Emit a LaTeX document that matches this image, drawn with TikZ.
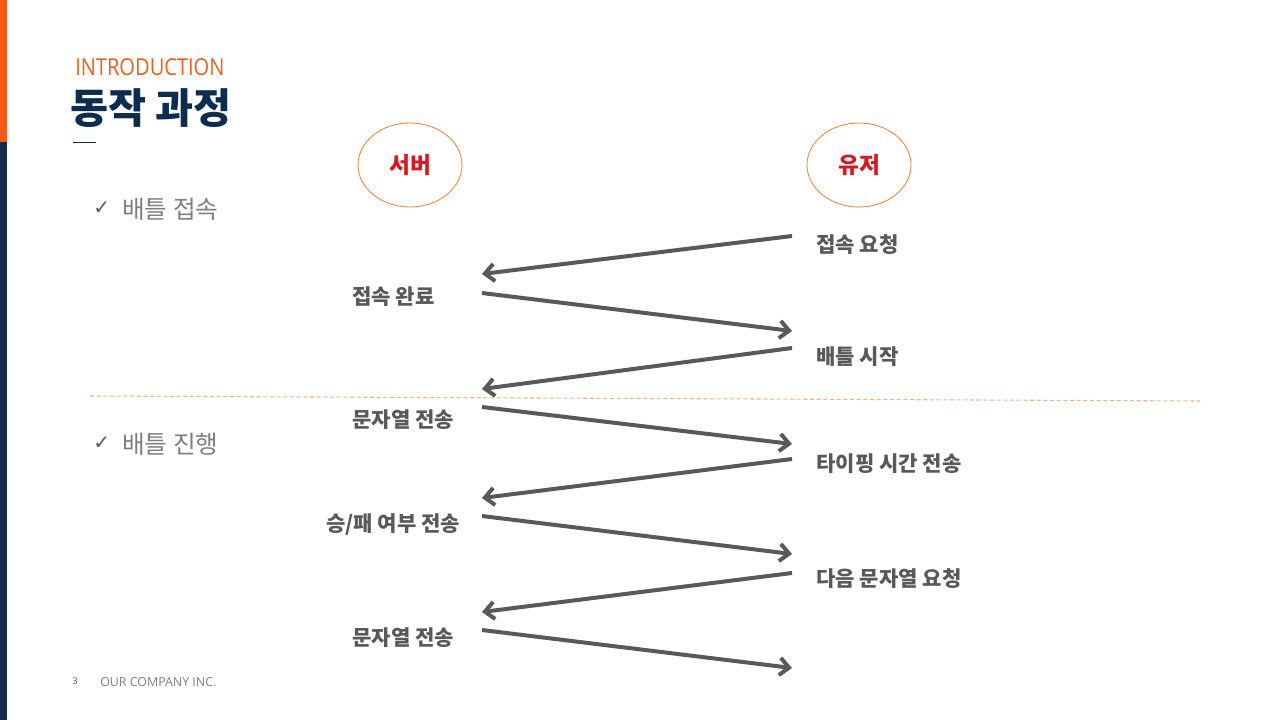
\documentclass[tikz,border=0pt]{standalone}
\usepackage{fontspec}
\setmainfont{Noto Sans CJK KR}
\newfontfamily\symfont{DejaVu Sans}
\newfontfamily\latinfont{Open Sans}
\usetikzlibrary{arrows.meta,shapes.geometric}

\definecolor{barorange}{HTML}{FA5A14}
\definecolor{titleorange}{HTML}{E8601C}
\definecolor{navy}{HTML}{0C2D50}
\definecolor{msggray}{HTML}{595959}
\definecolor{itemgray}{HTML}{7F7F7F}
\definecolor{ringorange}{HTML}{ED7D31}
\definecolor{dashorange}{HTML}{F4B183}
\definecolor{rolered}{HTML}{E0141E}

\tikzset{
  msg/.style={-{Straight Barb[length=7pt,width=13pt]}, line width=3pt, draw=msggray},
  msglabel/.style={anchor=west, inner sep=0pt, text=msggray, font=\fontsize{15.8}{18}\selectfont\bfseries},
  role/.style={ellipse, draw=ringorange, line width=0.6pt, minimum width=78pt, minimum height=63pt, text=rolered, font=\fontsize{17}{19}\selectfont\bfseries},
  item/.style={anchor=west, inner sep=0pt, text=itemgray, font=\fontsize{18.5}{20}\selectfont},
  check/.style={anchor=west, inner sep=0pt, text=msggray, font=\symfont\fontsize{15}{17}\selectfont},
}

\begin{document}
\begin{tikzpicture}[x=0.75pt, y=-0.75pt]
\useasboundingbox (0,0) rectangle (1280,720);
% side bar
\fill [barorange] (0,0) rectangle (7,142);
\fill [navy] (0,142) rectangle (7,720);

% heading
\node (intro) [anchor=west, inner sep=0pt, text=titleorange] at (75,67)
  {\scalebox{0.86}[1]{\latinfont\fontsize{17.5}{19}\selectfont INTRODUCTION}};
\node (title) [anchor=west, inner sep=0pt, text=navy, font=\fontsize{31}{34}\selectfont\bfseries] at (70,108) {동작 과정};
\draw [navy, line width=0.7pt] (73,142) -- (96,142);

% sections
\node (chk1) [check] at (93,208) {✓};
\node (sec1) [item] at (122,209) {배틀 접속};
\node (chk2) [check] at (93,443) {✓};
\node (sec2) [item] at (122,444) {배틀 진행};
\draw [dashorange, line width=0.8pt, dash pattern=on 3pt off 2pt] (90,396) -- (1200,401);

% roles
\node (server) [role] at (410,165) {서버};
\node (user) [role] at (859,165) {유저};

% message ends
\coordinate (u1) at (792,236);
\coordinate (s1) at (482,274);
\coordinate (s2) at (482,293);
\coordinate (u2) at (792,331);
\coordinate (u3) at (792,348);
\coordinate (s3) at (482,389);
\coordinate (s4) at (482,407);
\coordinate (u4) at (792,444);
\coordinate (u5) at (792,459);
\coordinate (s5) at (482,498);
\coordinate (s6) at (482,516);
\coordinate (u6) at (792,554);
\coordinate (u7) at (792,573);
\coordinate (s7) at (482,612);
\coordinate (s8) at (482,630);
\coordinate (u8) at (792,668);

\draw [msg] (u1) -- (s1);
\draw [msg] (s2) -- (u2);
\draw [msg] (u3) -- (s3);
\draw [msg] (s4) -- (u4);
\draw [msg] (u5) -- (s5);
\draw [msg] (s6) -- (u6);
\draw [msg] (u7) -- (s7);
\draw [msg] (s8) -- (u8);

% message labels
\node (req) [msglabel] at (816,245) {접속 요청};
\node (done) [msglabel] at (352,297) {접속 완료};
\node (start) [msglabel] at (816,357) {배틀 시작};
\node (str1) [msglabel] at (352,420) {문자열 전송};
\node (typing) [msglabel] at (816,464) {타이핑 시간 전송};
\node (result) [msglabel] at (326,525) {승/패 여부 전송};
\node (next) [msglabel] at (816,579) {다음 문자열 요청};
\node (str2) [msglabel] at (352,638) {문자열 전송};

% footer
\node (page) [anchor=west, inner sep=0pt, text=msggray, font=\latinfont\fontsize{7}{8}\selectfont] at (72,681) {3};
\node (company) [anchor=west, inner sep=0pt, text=itemgray, font=\latinfont\fontsize{9.3}{11}\selectfont] at (100,682) {OUR COMPANY INC.};
\end{tikzpicture}
\end{document}
